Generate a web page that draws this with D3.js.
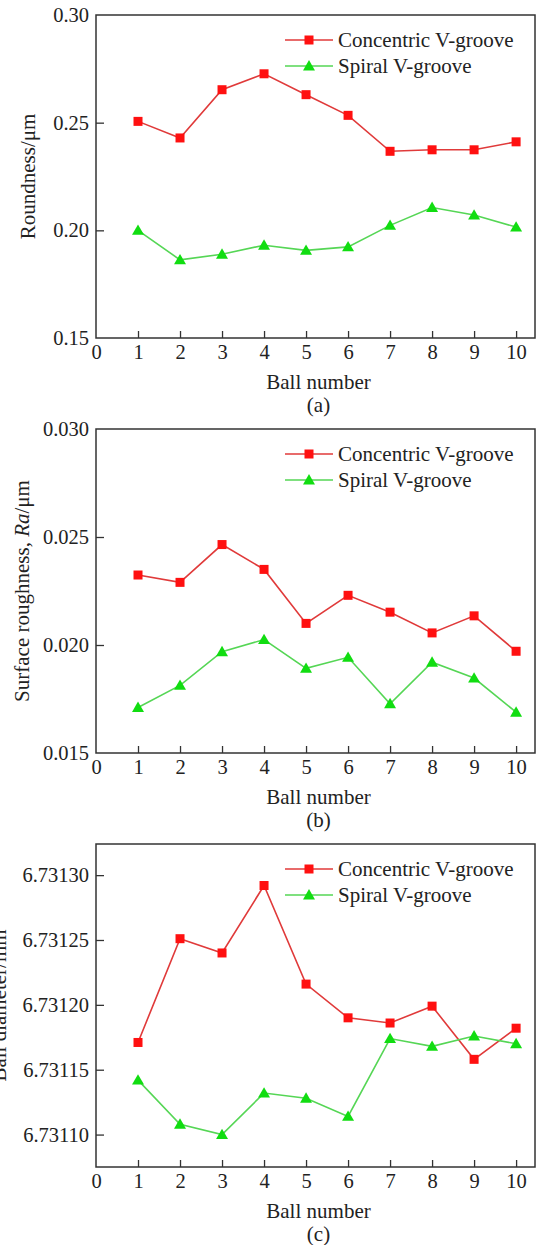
<!DOCTYPE html>
<html>
<head>
<meta charset="utf-8">
<script src="https://cdn.jsdelivr.net/npm/d3@7"></script>
<style>
  body { margin: 0; background: #fff; }
  svg text { font-family: "Liberation Serif", "Times New Roman", Times, serif; fill: #222; }
</style>
</head>
<body>
<div class="chart"></div>
<script>
// ball numbers along x
const ballNumbers = [1, 2, 3, 4, 5, 6, 7, 8, 9, 10];
const xTicks = [0, 1, 2, 3, 4, 5, 6, 7, 8, 9, 10];
const seriesNames = ["Concentric V-groove", "Spiral V-groove"];

// (a) roundness, um
const roundnessConcentric = [0.2506, 0.2429, 0.2653, 0.2727, 0.2630, 0.2534, 0.2367, 0.2374, 0.2374, 0.2411];
const roundnessSpiral = [0.2000, 0.1863, 0.1889, 0.1931, 0.1907, 0.1923, 0.2023, 0.2106, 0.2071, 0.2015];
const roundnessTicks = [0.15, 0.20, 0.25, 0.30];

// (b) surface roughness Ra, um
const roughConcentric = [0.02324, 0.02290, 0.02465, 0.02350, 0.02100, 0.02230, 0.02152, 0.02056, 0.02135, 0.01971];
const roughSpiral = [0.01711, 0.01813, 0.01969, 0.02025, 0.01892, 0.01943, 0.01728, 0.01920, 0.01847, 0.01689];
const roughTicks = [0.015, 0.020, 0.025, 0.030];

// (c) ball diameter, mm
const diamConcentric = [6.731171, 6.731251, 6.731240, 6.731292, 6.731216, 6.731190, 6.731186, 6.731199, 6.731158, 6.731182];
const diamSpiral = [6.731142, 6.731108, 6.731100, 6.731132, 6.731128, 6.731114, 6.731174, 6.731168, 6.731176, 6.731170];
const diamTicks = [6.73110, 6.73115, 6.73120, 6.73125, 6.73130];

const red = { line: "#e03a3a", mark: "#ff1010" };
const green = { line: "#55d655", mark: "#11dd11" };

const panels = [
  { top: 15, bottom: 338, domain: [0.15, 0.30], ticks: roundnessTicks, fmt: ".2f",
    a: roundnessConcentric, b: roundnessSpiral, labelX: 35, label: ["Roundness/μm"], cap: "(a)" },
  { top: 429, bottom: 753, domain: [0.015, 0.030], ticks: roughTicks, fmt: ".3f",
    a: roughConcentric, b: roughSpiral, labelX: 29, label: ["Surface roughness, ", "Ra", "/μm"], cap: "(b)" },
  { top: 844, bottom: 1167, domain: [6.731075, 6.731324], ticks: diamTicks, fmt: ".5f",
    a: diamConcentric, b: diamSpiral, labelX: 6, label: ["Ball diameter/mm"], cap: "(c)" }
];

const W = 540, H = 1245;
const left = 96, right = 535;
const serif = "'Liberation Serif', 'Times New Roman', Times, serif";

const svg = d3.select(".chart").append("svg")
  .attr("width", W)
  .attr("height", H);

const x = d3.scaleLinear().domain([0, 10.45]).range([left, right]);

panels.forEach(p => {
  const y = d3.scaleLinear().domain(p.domain).range([p.bottom, p.top]);
  const g = svg.append("g");

  // frame
  g.append("rect")
    .attr("x", left).attr("y", p.top)
    .attr("width", right - left).attr("height", p.bottom - p.top)
    .attr("fill", "none").attr("stroke", "#333").attr("stroke-width", 1.5);

  // x axis, ticks inward
  const xa = g.append("g")
    .attr("transform", `translate(0,${p.bottom})`)
    .call(d3.axisBottom(x).tickValues(xTicks).tickFormat(d3.format("d")).tickSizeInner(-7).tickSizeOuter(0).tickPadding(6));
  xa.select(".domain").remove();
  xa.selectAll(".tick line").attr("stroke", "#333").attr("stroke-width", 1.3)
    .filter(d => d === 0).remove();
  xa.selectAll(".tick text").attr("font-size", 20.5).attr("fill", "#222")
    .attr("font-family", serif);

  // y axis, ticks inward
  const ya = g.append("g")
    .attr("transform", `translate(${left},0)`)
    .call(d3.axisLeft(y).tickValues(p.ticks).tickFormat(d3.format(p.fmt)).tickSizeInner(-8).tickSizeOuter(0).tickPadding(7));
  ya.select(".domain").remove();
  ya.selectAll(".tick line").attr("stroke", "#333").attr("stroke-width", 1.3)
    .filter(d => Math.abs(y(d) - p.bottom) < 1 || Math.abs(y(d) - p.top) < 1).remove();
  ya.selectAll(".tick text").attr("font-size", 20.5).attr("fill", "#222")
    .attr("font-family", serif);

  // axis titles
  g.append("text")
    .attr("x", (left + right) / 2 + 3).attr("y", p.bottom + 51)
    .attr("text-anchor", "middle").attr("font-size", 21)
    .text("Ball number");
  g.append("text")
    .attr("x", (left + right) / 2 + 3).attr("y", p.bottom + 74)
    .attr("text-anchor", "middle").attr("font-size", 21)
    .text(p.cap);

  const yl = g.append("text")
    .attr("transform", `translate(${p.labelX},${(p.top + p.bottom) / 2}) rotate(-90)`)
    .attr("text-anchor", "middle").attr("font-size", 21);
  p.label.forEach(s => {
    yl.append("tspan").text(s).attr("font-style", s === "Ra" ? "italic" : null);
  });

  // series
  const line = d3.line().x((d, i) => x(ballNumbers[i])).y(d => y(d));
  g.append("path").datum(p.a).attr("d", line)
    .attr("fill", "none").attr("stroke", red.line).attr("stroke-width", 1.6);
  g.append("path").datum(p.b).attr("d", line)
    .attr("fill", "none").attr("stroke", green.line).attr("stroke-width", 1.6);

  g.selectAll(".sq").data(p.a).enter().append("rect")
    .attr("x", (d, i) => x(ballNumbers[i]) - 4.5)
    .attr("y", d => y(d) - 4.5)
    .attr("width", 9).attr("height", 9)
    .attr("fill", red.mark);
  const tri = d3.symbol().type(d3.symbolTriangle).size(62);
  g.selectAll(".tri").data(p.b).enter().append("path")
    .attr("d", tri)
    .attr("transform", (d, i) => `translate(${x(ballNumbers[i])},${y(d) + 1})`)
    .attr("fill", green.mark);

  // legend
  const lg = g.append("g").attr("transform", `translate(285,${p.top + 25})`);
  [red, green].forEach((c, i) => {
    const row = lg.append("g").attr("transform", `translate(0,${i * 26})`);
    row.append("line").attr("x1", 0).attr("x2", 48).attr("y1", 0).attr("y2", 0)
      .attr("stroke", c.line).attr("stroke-width", 1.6);
    if (i === 0) {
      row.append("rect").attr("x", 24 - 4.5).attr("y", -4.5).attr("width", 9).attr("height", 9).attr("fill", c.mark);
    } else {
      row.append("path").attr("d", tri).attr("transform", "translate(24,1)").attr("fill", c.mark);
    }
    row.append("text").attr("x", 53).attr("y", 7).attr("font-size", 21)
      .text(seriesNames[i]);
  });
});
</script>
</body>
</html>
